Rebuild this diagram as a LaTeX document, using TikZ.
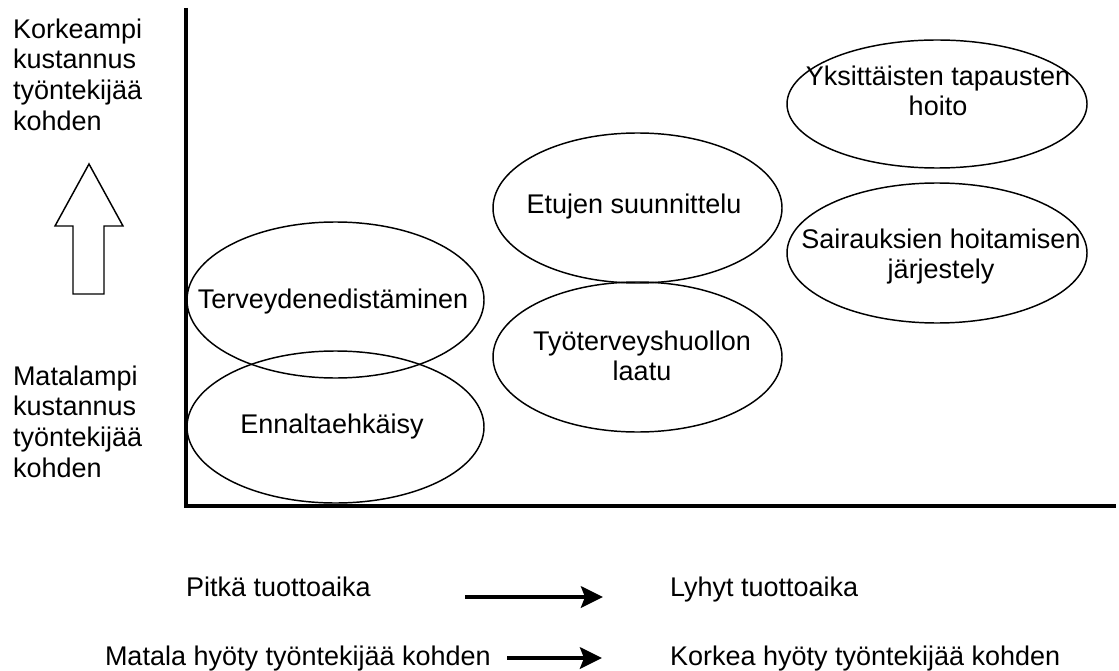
\documentclass[tikz,border=0pt]{standalone}
\usepackage{fontspec}
\setmainfont{Liberation Sans}
\usetikzlibrary{shapes.geometric,arrows.meta}
\begin{document}
\begin{tikzpicture}[x=0.75pt,y=-0.75pt,
  txt/.style={font=\fontsize{20.25pt}{23pt}\selectfont, inner sep=0pt, outer sep=0pt},
  blob/.style={draw, ellipse, line width=1.1pt, inner sep=0pt},
  axis/.style={line width=3pt, line join=miter},
  flow/.style={line width=3pt, -{Stealth[length=16.5pt,width=16pt,inset=3pt]}}]
\useasboundingbox (0,0) rectangle (1119,670);

% axes
\coordinate (ytop) at (186,8);
\coordinate (orig) at (186,506);
\coordinate (xend) at (1116,506);
\draw[axis] (ytop) -- (orig) -- (xend);

% vertical scale labels and hollow up arrow
\node[txt, anchor=north west, align=left] (hi) at (13,18.5)
  {Korkeampi\\kustannus\\työntekijää\\kohden};
\node[txt, anchor=north west, align=left] (lo) at (13,365.5)
  {Matalampi\\kustannus\\työntekijää\\kohden};
\draw[line width=1.1pt, line join=miter]
  (89,164) -- (123,226) -- (104,226) -- (104,294) -- (73,294) -- (73,226) -- (55,226) -- cycle;

% activity ellipses
\node[blob, minimum width=222.75pt, minimum height=117pt] (e1) at (335.5,300) {};
\node[blob, minimum width=222.75pt, minimum height=114pt] (e2) at (335.5,427) {};
\node[blob, minimum width=216.75pt, minimum height=112.5pt] (e3) at (637.5,208) {};
\node[blob, minimum width=216.75pt, minimum height=112.5pt] (e4) at (637.5,357) {};
\node[blob, minimum width=225pt, minimum height=96pt] (e5) at (937,104) {};
\node[blob, minimum width=225pt, minimum height=105pt] (e6) at (937,253) {};

\node[txt, anchor=base] (t1) at (333,308) {Terveydenedistäminen};
\node[txt, anchor=base] (t2) at (332,433) {Ennaltaehkäisy};
\node[txt, anchor=base] (t3) at (634,214) {Etujen suunnittelu};
\node[txt, anchor=north, align=center] (t4) at (642,330.5) {Työterveyshuollon\\laatu};
\node[txt, anchor=north, align=center] (t5) at (938,65.5) {Yksittäisten tapausten\\hoito};
\node[txt, anchor=north, align=center] (t6) at (941,228.5) {Sairauksien hoitamisen\\järjestely};

% horizontal scale
\node[txt, anchor=base west] (b1) at (186,596) {Pitkä tuottoaika};
\node[txt, anchor=base west] (b2) at (670,596) {Lyhyt tuottoaika};
\node[txt, anchor=base west] (b3) at (105,665) {Matala hyöty työntekijää kohden};
\node[txt, anchor=base west] (b4) at (670,665) {Korkea hyöty työntekijää kohden};
\coordinate (a1s) at (465,597);
\coordinate (a1e) at (603,597);
\coordinate (a2s) at (507,658);
\coordinate (a2e) at (602,658);
\draw[flow] (a1s) -- (a1e);
\draw[flow] (a2s) -- (a2e);
\end{tikzpicture}
\end{document}
